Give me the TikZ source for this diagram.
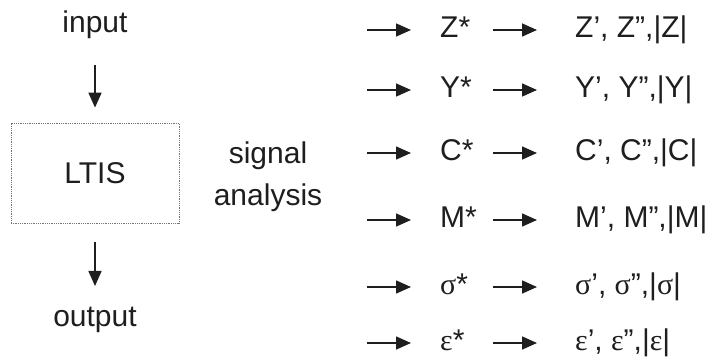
\documentclass[tikz,border=0pt]{standalone}
\usepackage{fontspec}
\setmainfont{Liberation Sans}
\newfontfamily\greekfont{Liberation Serif}
\usetikzlibrary{arrows.meta,positioning}
\definecolor{inkgray}{RGB}{30,30,30}
\tikzset{
  sigtext/.style={
    inner sep=0pt,
    text=inkgray,
    align=center,
    font=\fontsize{30}{42}\selectfont
  },
  sysbox/.style={
    rectangle,
    draw=black!55,
    densely dotted,
    line width=0.8pt,
    minimum width=168pt,
    minimum height=100pt,
    text=inkgray,
    font=\fontsize{30}{36}\selectfont
  },
  startext/.style={
    anchor=west,
    inner sep=0pt,
    text=inkgray,
    text width=34pt,
    align=left,
    text height=21pt,
    text depth=6pt,
    font=\fontsize{30}{36}\selectfont
  },
  restext/.style={
    anchor=west,
    inner sep=0pt,
    text=inkgray,
    text height=21pt,
    text depth=6pt,
    font=\fontsize{30}{36}\selectfont
  },
  sigarrow/.style={
    -{Triangle[length=15pt,width=13pt]},
    line width=1.6pt,
    draw=inkgray
  },
  tostar/.style={sigarrow, shorten >=29pt},
  toresult/.style={sigarrow, shorten <=19pt, shorten >=38pt}
}

\begin{document}
\begin{tikzpicture}[x=1pt, y=-1pt]
\useasboundingbox (0,0) rectangle (711,358);

% left column: the system
\node[sigtext] (input) at (95,25) {input};
\node[sysbox] (ltis) at (95,173) {LTIS};
\node[sigtext] (output) at (95,320) {output};
\node[sigtext] (sig) at (268,177) {signal\\analysis};

\draw[sigarrow, shorten <=26pt, shorten >=15pt] (input) -- (ltis);
\draw[sigarrow, shorten <=19pt, shorten >=21pt] (ltis) -- (output);

% right column: the quantities
\coordinate (zin) at (367,30);
\coordinate (yin) at (367,90);
\coordinate (cin) at (367,153);
\coordinate (min) at (367,220);
\coordinate (sin) at (367,287);
\coordinate (ein) at (367,343);

\node[startext] (zstar) at (440,30) {Z*};
\node[startext] (ystar) at (440,90) {Y*};
\node[startext] (cstar) at (440,153) {C*};
\node[startext] (mstar) at (440,220) {M*};
\node[startext] (sstar) at (440,287) {{\greekfont σ}*};
\node[startext] (estar) at (440,343) {{\greekfont ε}*};

\node[restext] (zres) at (575,30) {Z', Z'',|Z|};
\node[restext] (yres) at (575,90) {Y', Y'',|Y|};
\node[restext] (cres) at (575,153) {C', C'',|C|};
\node[restext] (mres) at (575,220) {M', M'',|M|};
\node[restext] (sres) at (575,287) {{\greekfont σ}', {\greekfont σ}'',|{\greekfont σ}|};
\node[restext] (eres) at (575,343) {{\greekfont ε}', {\greekfont ε}'',|{\greekfont ε}|};

\draw[tostar] (zin) -- (zstar.west);
\draw[tostar] (yin) -- (ystar.west);
\draw[tostar] (cin) -- (cstar.west);
\draw[tostar] (min) -- (mstar.west);
\draw[tostar] (sin) -- (sstar.west);
\draw[tostar] (ein) -- (estar.west);

\draw[toresult] (zstar.east) -- (zres.west);
\draw[toresult] (ystar.east) -- (yres.west);
\draw[toresult] (cstar.east) -- (cres.west);
\draw[toresult] (mstar.east) -- (mres.west);
\draw[toresult] (sstar.east) -- (sres.west);
\draw[toresult] (estar.east) -- (eres.west);
\end{tikzpicture}
\end{document}
